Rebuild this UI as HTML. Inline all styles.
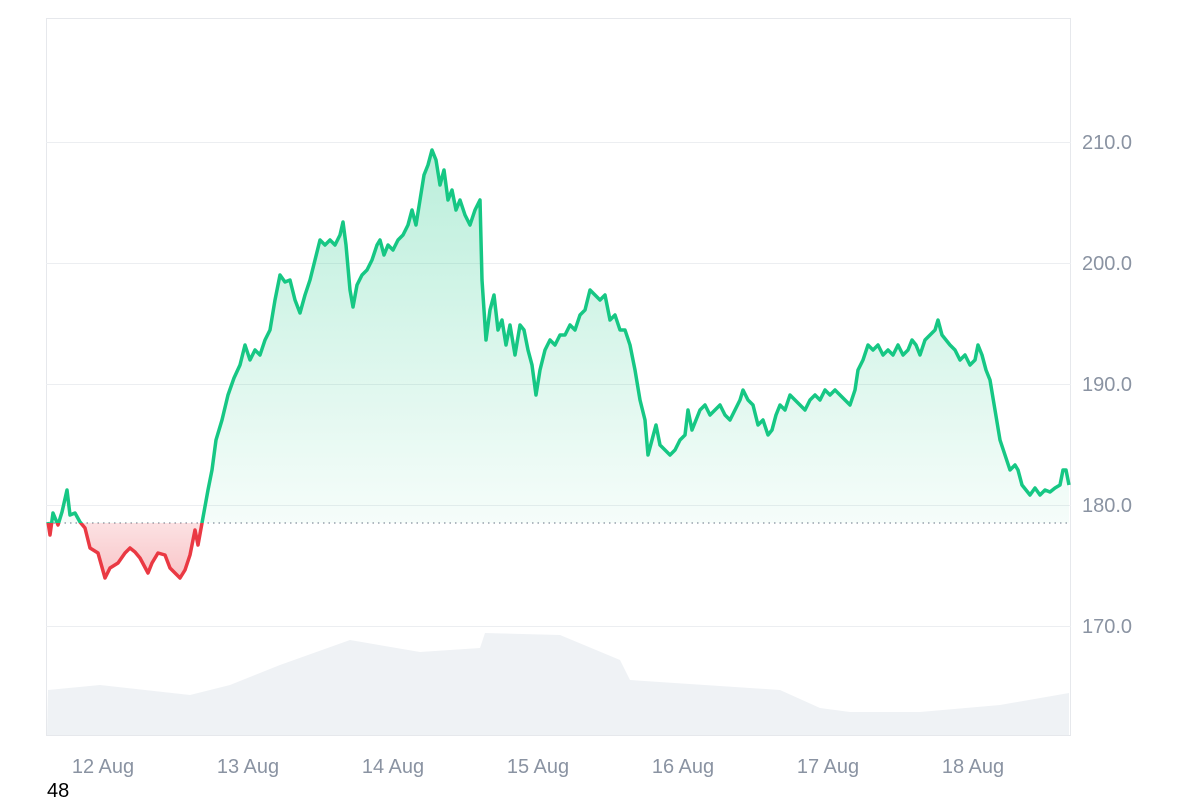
<!DOCTYPE html>
<html><head><meta charset="utf-8"><style>
body{margin:0;background:#fff;width:1200px;height:800px;overflow:hidden;font-family:"Liberation Sans",sans-serif}
</style></head><body>
<svg width="1200" height="800" viewBox="0 0 1200 800" xmlns="http://www.w3.org/2000/svg" font-family="Liberation Sans, sans-serif">
<defs>
<linearGradient id="gg" x1="0" y1="140" x2="0" y2="523" gradientUnits="userSpaceOnUse">
<stop offset="0" stop-color="#16c784" stop-opacity="0.3"/><stop offset="1" stop-color="#16c784" stop-opacity="0.04"/></linearGradient>
<linearGradient id="rg" x1="0" y1="523" x2="0" y2="580" gradientUnits="userSpaceOnUse">
<stop offset="0" stop-color="#ea3943" stop-opacity="0.15"/><stop offset="1" stop-color="#ea3943" stop-opacity="0.3"/></linearGradient>
<clipPath id="top"><rect x="0" y="0" width="1200" height="523"/></clipPath>
<clipPath id="bot"><rect x="0" y="523" width="1200" height="300"/></clipPath>
<path id="ln" d="M48 522 L50 535 L53 513 L58 525 L62 512 L67 490 L70 515 L75 513 L80 522 L85 528 L90 548 L98 553 L105 578 L110 568 L118 563 L125 553 L130 548 L135 552 L140 558 L148 573 L152 563 L158 553 L165 555 L170 568 L175 573 L180 578 L185 570 L190 555 L195 530 L198 545 L202 523 L208 490 L212 470 L216 440 L222 420 L228 395 L234 378 L240 365 L245 345 L250 360 L255 350 L260 355 L265 340 L270 330 L275 300 L280 275 L285 282 L290 280 L295 300 L300 313 L305 295 L310 280 L315 260 L320 240 L325 245 L330 240 L335 245 L340 235 L343 222 L346 245 L350 290 L353 307 L357 285 L362 275 L367 270 L372 260 L377 245 L380 240 L384 255 L388 245 L393 250 L398 240 L403 235 L408 225 L412 210 L416 225 L420 200 L424 175 L428 165 L432 150 L436 160 L440 185 L444 170 L448 200 L452 190 L456 210 L460 200 L465 215 L470 225 L475 210 L480 200 L482 280 L486 340 L490 310 L494 295 L498 330 L502 320 L506 345 L510 325 L515 355 L520 325 L524 330 L528 350 L532 365 L536 395 L540 370 L545 350 L550 340 L555 345 L560 335 L565 335 L570 325 L575 330 L580 315 L585 310 L590 290 L595 295 L600 300 L605 295 L610 320 L615 315 L620 330 L625 330 L630 345 L635 370 L640 400 L645 420 L648 455 L652 440 L656 425 L660 445 L665 450 L670 455 L675 450 L680 440 L685 435 L688 410 L692 430 L696 420 L700 410 L705 405 L710 415 L715 410 L720 405 L725 415 L730 420 L735 410 L740 400 L743 390 L748 400 L753 405 L758 425 L763 420 L768 435 L772 430 L776 415 L780 405 L785 410 L790 395 L795 400 L800 405 L805 410 L810 400 L815 395 L820 400 L825 390 L830 395 L835 390 L840 395 L845 400 L850 405 L855 390 L858 370 L863 360 L868 345 L873 350 L878 345 L883 355 L888 350 L893 355 L898 345 L903 355 L908 350 L912 340 L916 345 L920 355 L925 340 L930 335 L935 330 L938 320 L942 335 L946 340 L950 345 L955 350 L960 360 L965 355 L970 365 L975 360 L978 345 L982 355 L986 370 L990 380 L995 410 L1000 440 L1005 455 L1010 470 L1015 465 L1018 470 L1022 485 L1026 490 L1030 495 L1035 488 L1040 495 L1045 490 L1050 492 L1055 488 L1060 485 L1063 470 L1066 470 L1069 485"/>
</defs>
<rect x="46.5" y="18.5" width="1024" height="717" fill="none" stroke="#e6e8ec"/>
<g stroke="#eceef1" stroke-width="1">
<line x1="46" y1="142.5" x2="1071" y2="142.5"/><line x1="46" y1="263.5" x2="1071" y2="263.5"/>
<line x1="46" y1="384.5" x2="1071" y2="384.5"/><line x1="46" y1="505.5" x2="1071" y2="505.5"/>
<line x1="46" y1="626.5" x2="1071" y2="626.5"/></g>
<path d="M47 735 L48 690 L100 685 L190 695 L230 685 L280 665 L350 640 L420 652 L480 648 L485 633 L560 635 L620 660 L630 680 L780 690 L820 708 L850 712 L920 712 L1000 705 L1069 693 L1069 735 Z" fill="#eff2f5"/>
<g fill="#8a93a2" font-size="20">
<text x="1082" y="149">210.0</text><text x="1082" y="270">200.0</text><text x="1082" y="391">190.0</text><text x="1082" y="512">180.0</text><text x="1082" y="633">170.0</text>
<text x="103" y="773" text-anchor="middle">12 Aug</text><text x="248" y="773" text-anchor="middle">13 Aug</text><text x="393" y="773" text-anchor="middle">14 Aug</text><text x="538" y="773" text-anchor="middle">15 Aug</text><text x="683" y="773" text-anchor="middle">16 Aug</text><text x="828" y="773" text-anchor="middle">17 Aug</text><text x="973" y="773" text-anchor="middle">18 Aug</text>
</g>
<text x="47" y="797" font-size="20" fill="#000">48</text>
<line x1="48" y1="523" x2="1069" y2="523" stroke="#9aa1ad" stroke-width="1.5" stroke-dasharray="1.5,4"/>
<g clip-path="url(#top)">
<path d="M48 523 L48 522 L50 535 L53 513 L58 525 L62 512 L67 490 L70 515 L75 513 L80 522 L202 523 L208 490 L212 470 L216 440 L222 420 L228 395 L234 378 L240 365 L245 345 L250 360 L255 350 L260 355 L265 340 L270 330 L275 300 L280 275 L285 282 L290 280 L295 300 L300 313 L305 295 L310 280 L315 260 L320 240 L325 245 L330 240 L335 245 L340 235 L343 222 L346 245 L350 290 L353 307 L357 285 L362 275 L367 270 L372 260 L377 245 L380 240 L384 255 L388 245 L393 250 L398 240 L403 235 L408 225 L412 210 L416 225 L420 200 L424 175 L428 165 L432 150 L436 160 L440 185 L444 170 L448 200 L452 190 L456 210 L460 200 L465 215 L470 225 L475 210 L480 200 L482 280 L486 340 L490 310 L494 295 L498 330 L502 320 L506 345 L510 325 L515 355 L520 325 L524 330 L528 350 L532 365 L536 395 L540 370 L545 350 L550 340 L555 345 L560 335 L565 335 L570 325 L575 330 L580 315 L585 310 L590 290 L595 295 L600 300 L605 295 L610 320 L615 315 L620 330 L625 330 L630 345 L635 370 L640 400 L645 420 L648 455 L652 440 L656 425 L660 445 L665 450 L670 455 L675 450 L680 440 L685 435 L688 410 L692 430 L696 420 L700 410 L705 405 L710 415 L715 410 L720 405 L725 415 L730 420 L735 410 L740 400 L743 390 L748 400 L753 405 L758 425 L763 420 L768 435 L772 430 L776 415 L780 405 L785 410 L790 395 L795 400 L800 405 L805 410 L810 400 L815 395 L820 400 L825 390 L830 395 L835 390 L840 395 L845 400 L850 405 L855 390 L858 370 L863 360 L868 345 L873 350 L878 345 L883 355 L888 350 L893 355 L898 345 L903 355 L908 350 L912 340 L916 345 L920 355 L925 340 L930 335 L935 330 L938 320 L942 335 L946 340 L950 345 L955 350 L960 360 L965 355 L970 365 L975 360 L978 345 L982 355 L986 370 L990 380 L995 410 L1000 440 L1005 455 L1010 470 L1015 465 L1018 470 L1022 485 L1026 490 L1030 495 L1035 488 L1040 495 L1045 490 L1050 492 L1055 488 L1060 485 L1063 470 L1066 470 L1069 485 L1069 523 Z" fill="url(#gg)"/>
<use href="#ln" fill="none" stroke="#16c784" stroke-width="3.5" stroke-linejoin="round"/>
</g>
<g clip-path="url(#bot)">
<path d="M48 523 L48 522 L50 535 L53 513 L58 525 L62 512 L67 490 L70 515 L75 513 L80 522 L85 528 L90 548 L98 553 L105 578 L110 568 L118 563 L125 553 L130 548 L135 552 L140 558 L148 573 L152 563 L158 553 L165 555 L170 568 L175 573 L180 578 L185 570 L190 555 L195 530 L198 545 L202 523 Z" fill="url(#rg)"/>
<use href="#ln" fill="none" stroke="#ea3943" stroke-width="3.5" stroke-linejoin="round"/>
</g>
</svg>
</body></html>
